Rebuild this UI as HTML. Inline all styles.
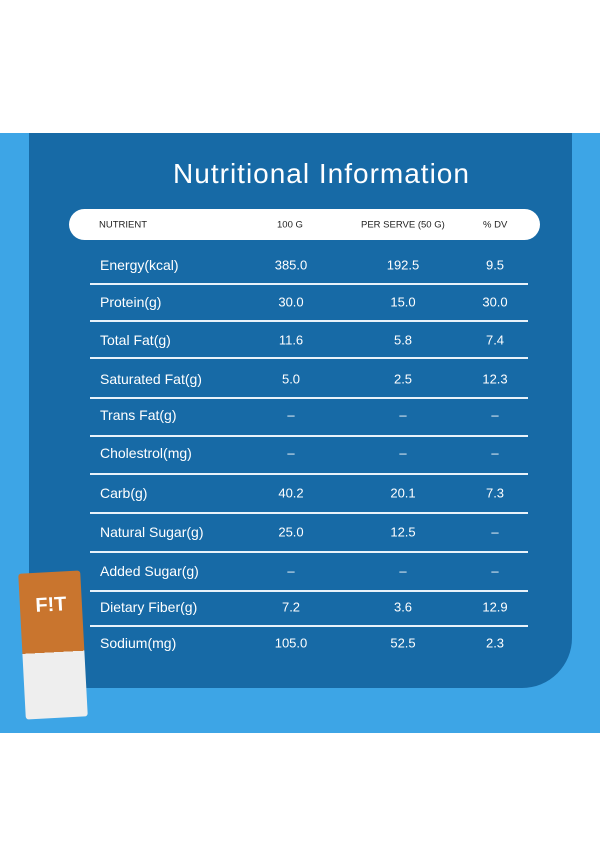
<!DOCTYPE html>
<html><head><meta charset="utf-8"><style>
body{margin:0;width:600px;height:866px;background:#fff;position:relative;overflow:hidden;font-family:"Liberation Sans","DejaVu Sans",sans-serif}
.bg{position:absolute;left:0;top:133px;width:600px;height:600px;background:#3da5e6}
.panel{position:absolute;left:29px;top:133px;width:543px;height:555px;background:#176aa6;border-bottom-right-radius:50px}
.title{position:absolute;left:0;width:643px;top:158px;text-align:center;color:#fff;font-size:28px;letter-spacing:1px}
.pill{position:absolute;left:69px;top:209px;width:471px;height:31px;background:#fff;border-radius:16px;font-size:9.5px;color:#222}
.pill span,.row span{position:absolute;top:50%;transform:translateY(-50%)}
.row{position:absolute;left:0;width:600px;height:30px;color:#fff;font-size:14px}
.c{transform:translate(-50%,-50%)!important;font-size:13px}
.sep{position:absolute;left:90px;width:438px;height:1.5px;background:#e8f2fa}
.pack{position:absolute;left:22px;top:572px;width:62px;height:146px;background:linear-gradient(#c9752e 0 55%,#eee 55% 100%);transform:rotate(-3deg);border-radius:3px}
</style></head><body>
<div class="bg"></div>
<div class="panel"></div>
<div class="title">Nutritional Information</div>
<div class="pill">
<span style="left:30px">NUTRIENT</span>
<span style="left:208px">100 G</span>
<span style="left:292px">PER SERVE (50 G)</span>
<span style="left:414px">% DV</span>
</div>
<div id="rows"></div>
<div class="pack"><div style="color:#fff;font-weight:bold;font-size:20px;text-align:center;margin-top:22px">F!T</div></div>
<script>
const names=["Energy(kcal)","Protein(g)","Total Fat(g)","Saturated Fat(g)","Trans Fat(g)","Cholestrol(mg)","Carb(g)","Natural Sugar(g)","Added Sugar(g)","Dietary Fiber(g)","Sodium(mg)"];
const per100=["385.0","30.0","11.6","5.0","–","–","40.2","25.0","–","7.2","105.0"];
const perServe=["192.5","15.0","5.8","2.5","–","–","20.1","12.5","–","3.6","52.5"];
const dv=["9.5","30.0","7.4","12.3","–","–","7.3","–","–","12.9","2.3"];
const ys=[265,302,340,379,415,453,493,532,571,607,643];
const seps=[283,320,357,397,435,473,512,551,590,625];
const root=document.getElementById('rows');
names.forEach((n,i)=>{
 const r=document.createElement('div');r.className='row';r.style.top=(ys[i]-15)+'px';
 
 
 r.innerHTML='<span style="left:100px">'+n+'</span><span class="c" style="left:291px">'+per100[i]+'</span><span class="c" style="left:403px">'+perServe[i]+'</span><span class="c" style="left:495px">'+dv[i]+'</span>';
 root.appendChild(r);
});
seps.forEach((y,i)=>{
 const s=document.createElement('div');s.className='sep';s.style.top=y+'px';
 
 
 root.appendChild(s);
});
</script>
</body></html>
